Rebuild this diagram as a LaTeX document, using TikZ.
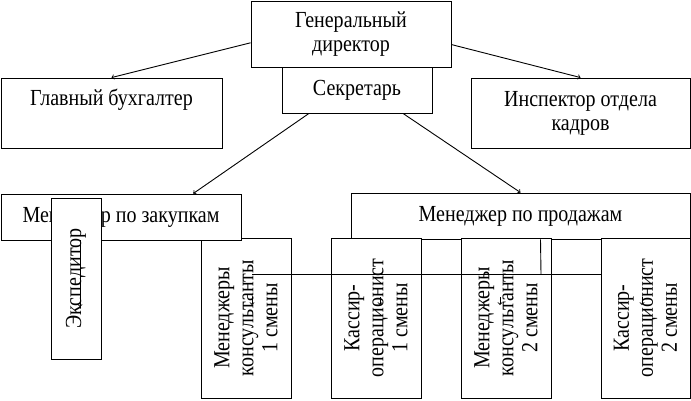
\documentclass[tikz,border=0pt]{standalone}
\usepackage{fontspec}
\setmainfont[FakeStretch=0.87]{Liberation Serif}

\begin{document}
\begin{tikzpicture}[x=1pt,y=-1pt,line width=0.9pt,
  box/.style={draw,fill=white,inner sep=0pt,align=center,font=\fontsize{23}{24}\selectfont},
  vbox/.style={box,rotate=90,minimum width=160pt,minimum height=90pt}]
\useasboundingbox (0,0) rectangle (691,400);
 \node[box,minimum width=200pt,minimum height=66pt] (gd) at (351,34) {Генеральный\\директор};
  \node[box,minimum width=150pt,minimum height=46pt] (sec) at (357,90) {Секретарь};
  \node[box,minimum width=221pt,minimum height=70pt] (buh) at (111.5,113) {Главный бухгалтер\\[8pt]~};
  \node[box,minimum width=219pt,minimum height=70pt] (insp) at (580.5,113) {Инспектор отдела\\кадров};
\draw[->] (gd.185)--(buh.north);
\draw[->] (gd.-6)--(insp.north);
  \node[vbox] (mk1) at (246,318) {Менеджеры\\консультанты\\1 смены};
  \node[box,minimum width=240pt,minimum height=46pt] (zak) at (121,217) {Менеджер по закупкам};
  \node[box,rotate=90,minimum width=161pt,minimum height=50pt] (eksp) at (76,278.5) {Экспедитор};
  \node[box,minimum width=339pt,minimum height=46pt] (prod) at (520.5,216) {Менеджер по продажам};
\draw[->] (sec.206)--(zak.18);
\draw[->] (sec.-27)--(prod.north);
  \node[vbox] (ko1) at (376,318) {Кассир-\\операционист\\1 смены};
  \node[vbox] (mk2) at (506,318) {Менеджеры\\консультанты\\2 смены};
  \coordinate (bus) at (541,274);
  \coordinate (busl) at (252,274);
  \coordinate (busr) at (602,274);
\draw ([xshift=20pt]prod.south)--(bus);
\draw (busl)--(busr);
  \node[vbox,minimum height=89pt] (ko2) at (645.5,318) {Кассир-\\операционист\\2 смены};
% short arrows into the lower boxes
\foreach \x/\n in {252/mk1,380/ko1,500/mk2,642/ko2}
  {\coordinate (t\n) at (\x,305);
   \draw[->] ([yshift=8pt]t\n)--(t\n);}
  \coordinate (teksp) at (80,307);
\draw[->] (teksp |- zak.south)--(teksp);
 \end{tikzpicture}
\end{document}
